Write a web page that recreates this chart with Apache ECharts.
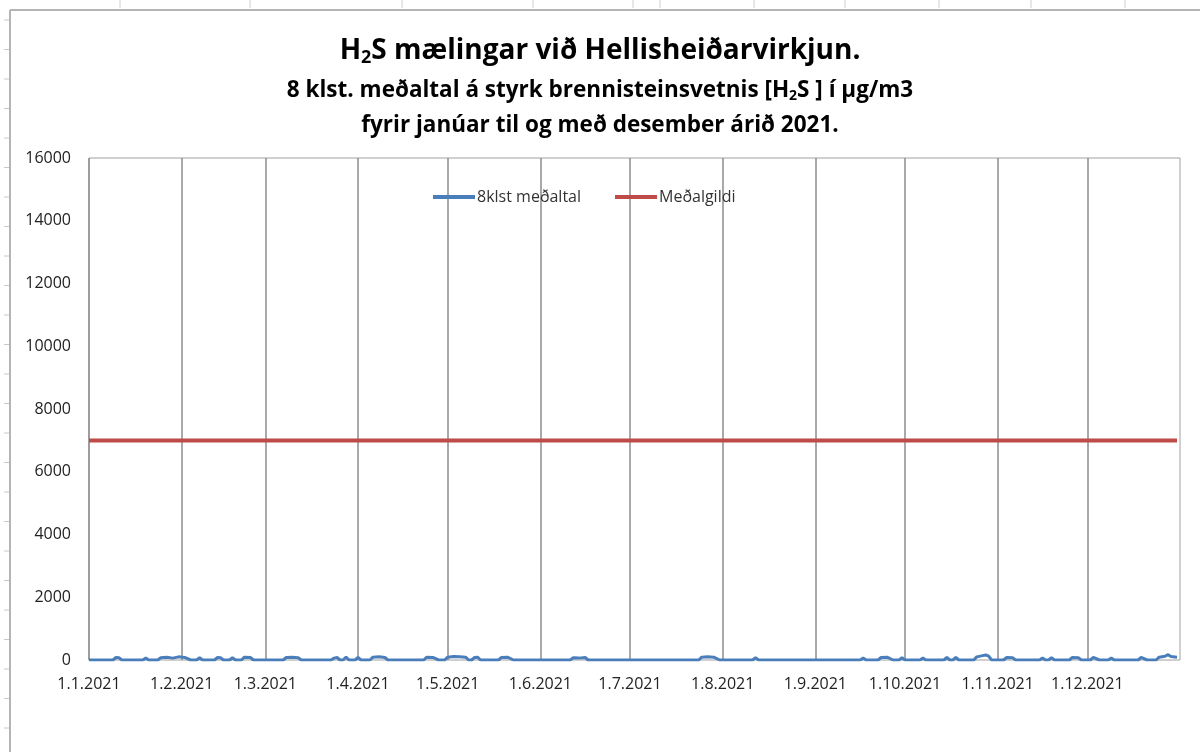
<!DOCTYPE html>
<html>
<head>
<meta charset="utf-8">
<title>H2S mælingar við Hellisheiðarvirkjun</title>
<script src="https://cdn.jsdelivr.net/npm/echarts@6/dist/echarts.min.js"></script>
<style>
    html, body { margin: 0; padding: 0; background: #fff; }
    #chart { width: 1200px; height: 752px; }
</style>
</head>
<body>
<div id="chart"></div>
<script>
// x ticks: fyrsti dagur hvers mánaðar
var monthStarts = ['2021-01-01','2021-02-01','2021-03-01','2021-04-01','2021-05-01','2021-06-01',
                   '2021-07-01','2021-08-01','2021-09-01','2021-10-01','2021-11-01','2021-12-01'];
var monthLabels = ['1.1.2021','1.2.2021','1.3.2021','1.4.2021','1.5.2021','1.6.2021',
                   '1.7.2021','1.8.2021','1.9.2021','1.10.2021','1.11.2021','1.12.2021'];
var yTicks = [0, 2000, 4000, 6000, 8000, 10000, 12000, 14000, 16000];

// 8klst meðaltal (µg/m3)
var h2sDates = [
    '2021-01-01','2021-01-09','2021-01-10','2021-01-11','2021-01-12',
    '2021-01-19','2021-01-20','2021-01-21',
    '2021-01-24','2021-01-25','2021-01-27','2021-01-29','2021-01-31','2021-02-02','2021-02-04',
    '2021-02-06','2021-02-07','2021-02-08',
    '2021-02-12','2021-02-13','2021-02-14','2021-02-15',
    '2021-02-17','2021-02-18','2021-02-19',
    '2021-02-21','2021-02-22','2021-02-24','2021-02-25',
    '2021-03-07','2021-03-08','2021-03-10','2021-03-12','2021-03-13',
    '2021-03-23','2021-03-24','2021-03-25','2021-03-26',
    '2021-03-27','2021-03-28','2021-03-29',
    '2021-03-31','2021-04-01','2021-04-02',
    '2021-04-05','2021-04-06','2021-04-08','2021-04-10','2021-04-11',
    '2021-04-23','2021-04-24','2021-04-26','2021-04-28',
    '2021-04-30','2021-05-01','2021-05-03','2021-05-05','2021-05-07','2021-05-08',
    '2021-05-09','2021-05-10','2021-05-11','2021-05-12',
    '2021-05-18','2021-05-19','2021-05-21','2021-05-23',
    '2021-06-11','2021-06-12','2021-06-14','2021-06-16','2021-06-17',
    '2021-07-24','2021-07-25','2021-07-27','2021-07-29','2021-07-31',
    '2021-08-11','2021-08-12','2021-08-13',
    '2021-09-16','2021-09-17','2021-09-18',
    '2021-09-22','2021-09-23','2021-09-25','2021-09-27',
    '2021-09-29','2021-09-30','2021-10-01',
    '2021-10-06','2021-10-07','2021-10-08',
    '2021-10-14','2021-10-15','2021-10-16',
    '2021-10-17','2021-10-18','2021-10-19',
    '2021-10-24','2021-10-25','2021-10-27','2021-10-28','2021-10-29','2021-10-30',
    '2021-11-03','2021-11-04','2021-11-06','2021-11-07',
    '2021-11-15','2021-11-16','2021-11-17',
    '2021-11-18','2021-11-19','2021-11-20',
    '2021-11-25','2021-11-26','2021-11-28','2021-11-29',
    '2021-12-02','2021-12-03','2021-12-05',
    '2021-12-08','2021-12-09','2021-12-10',
    '2021-12-18','2021-12-19','2021-12-21',
    '2021-12-24','2021-12-25','2021-12-27','2021-12-28','2021-12-29','2021-12-31'
];
var h2sValues = [
    0, 0, 80, 70, 0,
    0, 60, 0,
    0, 70, 90, 60, 100, 80, 0,
    0, 70, 0,
    0, 80, 70, 0,
    0, 70, 0,
    0, 90, 80, 0,
    0, 80, 90, 70, 0,
    0, 60, 80, 0,
    0, 90, 0,
    0, 80, 0,
    0, 90, 100, 80, 0,
    0, 90, 80, 0,
    0, 90, 110, 100, 90, 0,
    0, 80, 90, 0,
    0, 80, 90, 0,
    0, 70, 60, 80, 0,
    0, 90, 100, 90, 0,
    0, 70, 0,
    0, 60, 0,
    0, 80, 90, 0,
    0, 70, 0,
    0, 60, 0,
    0, 80, 0,
    0, 80, 0,
    0, 100, 140, 160, 120, 0,
    0, 80, 70, 0,
    0, 60, 0,
    0, 70, 0,
    0, 80, 70, 0,
    0, 80, 0,
    0, 60, 0,
    0, 80, 0,
    0, 90, 120, 170, 110, 90
];
// Meðalgildi
var meanDates = ['2021-01-01', '2021-12-31'];
var meanValues = [7000, 7000];

var font = '"Open Sans", Lato, "Noto Sans", sans-serif';

// dagar frá 1.1.2021
function toDay(s) {
    var p = s.split('-');
    return (Date.UTC(+p[0], +p[1] - 1, +p[2]) - Date.UTC(2021, 0, 1)) / 86400000;
}

var tickDays = monthStarts.map(toDay);
var h2sData = h2sDates.map(function (d, i) { return [toDay(d), h2sValues[i]]; });
var meanData = meanDates.map(function (d, i) { return [toDay(d), meanValues[i]]; });

// spreadsheet frame around the chart object
var frame = [
    { type: 'line', shape: { x1: 10, y1: 10, x2: 1200, y2: 10 }, style: { stroke: '#b4b4b4', lineWidth: 2 } },
    { type: 'line', shape: { x1: 10, y1: 10, x2: 10, y2: 752 }, style: { stroke: '#b4b4b4', lineWidth: 2 } }
];
[120, 250, 402, 533, 633, 660, 754, 845, 939, 1031, 1125].forEach(function (x) {
    frame.push({ type: 'line', shape: { x1: x, y1: 0, x2: x, y2: 8 }, style: { stroke: '#d0d0d0', lineWidth: 1 } });
});
for (var ry = 20; ry < 752; ry += 29.5) {
    frame.push({ type: 'line', shape: { x1: 4, y1: ry, x2: 9, y2: ry }, style: { stroke: '#c8c8c8', lineWidth: 1 } });
}

var myChart = echarts.init(document.getElementById('chart'));
myChart.setOption({
    backgroundColor: '#fff',
    animation: false,
    graphic: frame,
    title: [{
        text: '{a|H}{s|2}{a|S mælingar við Hellisheiðarvirkjun.}',
        left: 'center',
        top: 27,
        textStyle: {
            rich: {
                a: { fontFamily: font, fontWeight: 'bold', fontSize: 28, color: '#000', lineHeight: 38 },
                s: { fontFamily: font, fontWeight: 'bold', fontSize: 18, color: '#000', lineHeight: 38, padding: [14, 0, 0, 0] }
            }
        }
    }, {
        text: '{a|8 klst. meðaltal á styrk brennisteinsvetnis [H}{s|2}{a|S ] í µg/m3}',
        left: 'center',
        top: 71,
        textStyle: {
            rich: {
                a: { fontFamily: font, fontWeight: 'bold', fontSize: 22.5, color: '#000', lineHeight: 30 },
                s: { fontFamily: font, fontWeight: 'bold', fontSize: 14, color: '#000', lineHeight: 30, padding: [11, 0, 0, 0] }
            }
        }
    }, {
        text: 'fyrir janúar til og með desember árið 2021.',
        left: 'center',
        top: 106,
        textStyle: { fontFamily: font, fontWeight: 'bold', fontSize: 22.5, color: '#000', lineHeight: 30 }
    }],
    legend: {
        top: 184,
        left: 428,
        itemWidth: 42,
        itemHeight: 4,
        itemGap: 34,
        icon: 'rect',
        textStyle: { fontFamily: font, fontSize: 16, color: '#333', padding: [0, 0, 0, -3] },
        data: ['8klst meðaltal', 'Meðalgildi']
    },
    grid: {
        left: 89,
        right: 20,
        top: 158,
        bottom: 92,
        show: true,
        borderColor: '#a0a0a0',
        borderWidth: 1
    },
    xAxis: {
        type: 'value',
        min: 0,
        max: 365,
        axisLine: { show: false },
        axisTick: { show: false, customValues: tickDays },
        axisLabel: {
            customValues: tickDays,
            fontFamily: font,
            fontSize: 16,
            color: '#222',
            margin: 16,
            formatter: function (v) {
                var idx = tickDays.indexOf(v);
                return idx >= 0 ? monthLabels[idx] : '';
            }
        },
        splitLine: { show: true, lineStyle: { color: '#8c8c8c', width: 1.5 } }
    },
    yAxis: {
        type: 'value',
        min: 0,
        max: 16000,
        interval: 2000,
        axisLine: { show: false },
        axisTick: { show: false },
        splitLine: { show: false },
        axisLabel: {
            fontFamily: font,
            fontSize: 16,
            color: '#222',
            margin: 18,
            formatter: function (v) { return yTicks.indexOf(v) >= 0 ? String(v) : ''; }
        }
    },
    series: [{
        name: '8klst meðaltal',
        type: 'line',
        data: h2sData,
        symbol: 'none',
        color: '#4a7ebb',
        lineStyle: { color: '#4a7ebb', width: 3 },
        z: 3
    }, {
        name: 'Meðalgildi',
        type: 'line',
        data: meanData,
        symbol: 'none',
        color: '#be4b48',
        lineStyle: { color: '#be4b48', width: 4 },
        z: 2
    }]
});
</script>
</body>
</html>
